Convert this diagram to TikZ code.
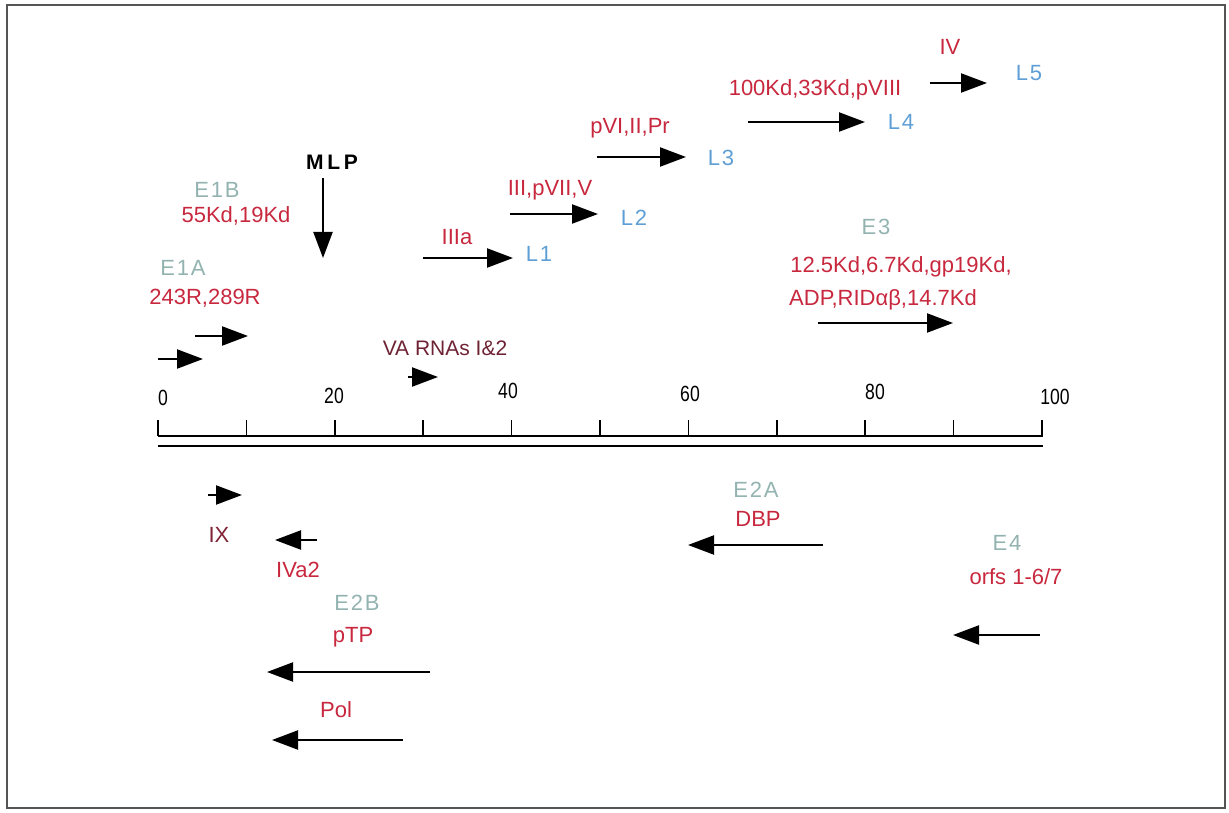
\documentclass[tikz,border=0pt]{standalone}
\usepackage{graphicx}
\usepackage{fontspec}
\setmainfont{Liberation Sans}
\newfontfamily\widefont[LetterSpace=18]{Liberation Sans}
\newfontfamily\spacedfont[LetterSpace=8]{Liberation Sans}
\usetikzlibrary{arrows.meta}
\definecolor{protred}{HTML}{C8283E}
\definecolor{unitgrey}{HTML}{93B3B0}
\definecolor{lateblue}{HTML}{5E9FD6}
\definecolor{vamaroon}{HTML}{6E2233}
\definecolor{framegrey}{HTML}{555555}

\begin{document}
\begin{tikzpicture}[x=1pt,y=-1pt,
    prot/.style={text=protred,font=\fontsize{22}{24}\selectfont,inner sep=0pt},
    unit/.style={text=unitgrey,font=\spacedfont\fontsize{22}{24}\selectfont,inner sep=0pt},
    late/.style={text=lateblue,font=\spacedfont\fontsize{22}{24}\selectfont,inner sep=0pt},
    num/.style={font=\fontsize{22}{24}\selectfont,inner sep=0pt},
    gene/.style={line width=2.2pt,-{Triangle[length=26pt,width=19pt]}}]
    \useasboundingbox (0,0) rectangle (1229,813);
    \draw[framegrey,line width=1.5pt] (7,5) rectangle (1225,808);
    % map scale
    \draw[line width=1.6pt] (158,436) -- (1043,436);
    \draw[line width=1.6pt] (158,446) -- (1043,446);
    \foreach \v in {0,10,...,100}
        \draw[line width=1.6pt] ({158+8.84*\v},420) -- ({158+8.84*\v},436);
    \foreach \v/\lx/\ly in {0/163/398,20/334/396,40/508/391,60/690/394,80/875/392,100/1055/397}
        \node[num] (n\v) at (\lx,\ly) {\scalebox{0.8}[1]{\v}};
    % transcription units
    \foreach \nm/\xa/\xb/\yy in {e1aa/158/203/359,e1ab/195/248/336,va/408/438/377,
        la/423/513/258,lb/510/598/214,lc/597/686/157,ld/748/865/122,le/930/987/83,
        e3/818/953/323,ix/208/242/495,iva/317/275/540,ptp/430/267/672,pol/403/272/740,
        dbp/823/688/545,e4/1040/953/635}
    {
        \coordinate (\nm s) at (\xa,\yy);
        \coordinate (\nm e) at (\xb,\yy);
        \draw[gene] (\nm s) -- (\nm e);
    }
    \node[font=\widefont\bfseries\fontsize{21}{24}\selectfont,inner sep=0pt] (mlp) at (332,162) {MLP};
    \coordinate (mlps) at (323,178);
    \coordinate (mlpe) at (323,258);
    \draw[gene] (mlps) -- (mlpe);
    \node[unit] (e1b) at (217,190) {E1B};
    \node[prot] (e1bp) at (236,216) {55Kd,19Kd};
    \node[unit] (e1a) at (183,268) {E1A};
    \node[prot] (e1ap) at (205,298) {243R,289R};
    \node[text=vamaroon,font=\fontsize{21}{24}\selectfont,inner sep=0pt] (varna) at (445,348) {VA RNAs I\&2};
    \node[prot] (iiia) at (457,237) {IIIa};
    \node[late] (l1) at (539,254) {L1};
    \node[late] (l2) at (634,218) {L2};
    \node[prot] (iii) at (550,190) {III,pVII,V};
    \node[prot] (pvi) at (630,128) {pVI,II,Pr};
    \node[late] (l3) at (721,158) {L3};
    \node[prot] (hex) at (815,90) {100Kd,33Kd,pVIII};
    \node[late] (l4) at (901,122) {L4};
    \node[prot] (iv) at (950,47) {IV};
    \node[late] (l5) at (1029,73) {L5};
    \node[unit] (e3) at (876,227) {E3};
    \node[prot] (e3pa) at (901,267) {12.5Kd,6.7Kd,gp19Kd,};
    \node[prot] (e3pb) at (883,300) {ADP,RIDαβ,14.7Kd};
    \node[prot,text=vamaroon!80!protred] (ix) at (219,535) {IX};
    \node[prot] (iva2) at (298,570) {IVa2};
    \node[unit] (e2b) at (357,603) {E2B};
    \node[prot] (ptp) at (353,637) {pTP};
    \node[prot] (pol) at (336,710) {Pol};
    \node[unit] (e2a) at (756,490) {E2A};
    \node[prot] (dbp) at (758,519) {DBP};
    \node[unit] (e4) at (1007,543) {E4};
    \node[prot] (orfs) at (1016,577) {orfs 1-6/7};
\end{tikzpicture}
\end{document}
